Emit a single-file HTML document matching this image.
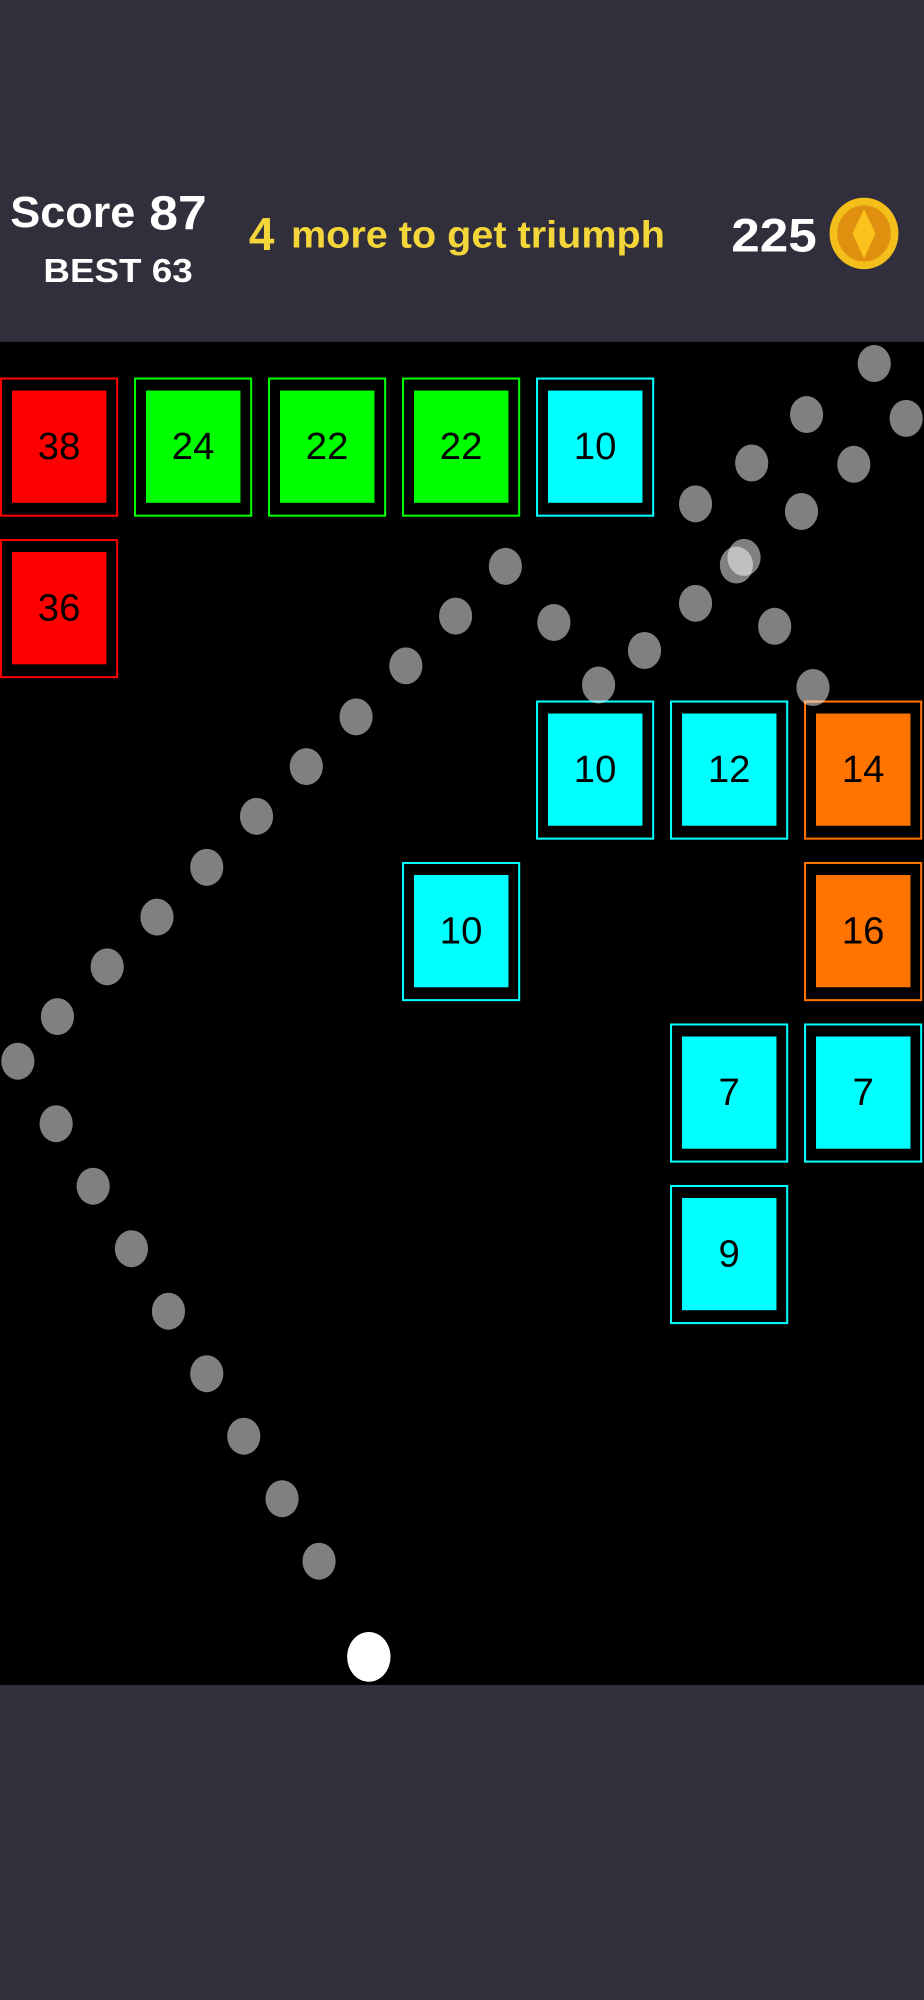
<!DOCTYPE html>
<html><head><meta charset="utf-8"><style>
html,body{margin:0;padding:0;background:#312f3b;}
svg{display:block;}
text{font-family:"Liberation Sans",Arial,sans-serif;}
</style></head><body>
<svg width="924" height="2000" viewBox="0 0 724 1568" preserveAspectRatio="none" xmlns="http://www.w3.org/2000/svg">
<rect x="0" y="0" width="724" height="1568" fill="#312f3b"/>
<rect x="0" y="268" width="724" height="1053" fill="#000"/>
<!-- header -->
<text x="8" y="178" font-size="34" font-weight="bold" fill="#fff" textLength="98" lengthAdjust="spacingAndGlyphs">Score</text>
<text x="117" y="180" font-size="38" font-weight="bold" fill="#fff" textLength="45" lengthAdjust="spacingAndGlyphs">87</text>
<text x="34" y="221" font-size="26" font-weight="bold" fill="#fff" textLength="117" lengthAdjust="spacingAndGlyphs">BEST  63</text>
<text x="195" y="196" font-size="36" font-weight="bold" fill="#f4d53a">4</text>
<text x="228" y="194" font-size="30" font-weight="bold" fill="#f4d53a" textLength="293" lengthAdjust="spacingAndGlyphs">more to get triumph</text>
<text x="573" y="197" font-size="37" font-weight="bold" fill="#fff" textLength="67" lengthAdjust="spacingAndGlyphs">225</text>
<ellipse cx="677" cy="183" rx="27" ry="28" fill="#f4bf1a"/>
<ellipse cx="677" cy="183" rx="21" ry="22" fill="#e0900e"/>
<polygon points="677,164 686,183 677,203 668,183" fill="#fbc21c"/>
<g id="blocks"></g>
<g fill="rgba(255,255,255,0.5)" id="dots"></g>
<ellipse cx="289" cy="1299" rx="17" ry="19.5" fill="#fff"/>
</svg>
<script>
var ns="http://www.w3.org/2000/svg";
var B=[[0,0,'#ff0000',38],[0,1,'#00ff00',24],[0,2,'#00ff00',22],[0,3,'#00ff00',22],[0,4,'#00ffff',10],
[1,0,'#ff0000',36],[2,4,'#00ffff',10],[2,5,'#00ffff',12],[2,6,'#ff7300',14],[3,3,'#00ffff',10],[3,6,'#ff7300',16],
[4,5,'#00ffff',7],[4,6,'#00ffff',7],[5,5,'#00ffff',9]];
var g=document.getElementById('blocks'),h='';
B.forEach(function(b){var x=b[1]*105,y=296+b[0]*126.6;
h+='<rect x="'+(x+0.8)+'" y="'+(y+0.8)+'" width="91" height="107.5" fill="none" stroke="'+b[2]+'" stroke-width="1.6"/>';
h+='<rect x="'+(x+9.4)+'" y="'+(y+10.2)+'" width="74" height="88" fill="'+b[2]+'"/>';
h+='<text x="'+(x+46.3)+'" y="'+(y+64)+'" font-size="30" text-anchor="middle" fill="#000">'+b[3]+'</text>';});
g.innerHTML=h;
var D=[[250,1224],[221,1175],[191,1126],[162,1077],[132,1028],[103,979],[73,930],[44,881],[14,832],[45,797],[84,758],[123,719],[162,680],[201,640],[240,601],[279,562],[318,522],[357,483],[396,444],
[434,488],[469,537],[505,510],[545,473],[583,437],[577,443],[607,491],[637,539],[628,401],[669,364],[710,328],[685,285],[632,325],[589,363],[545,395]];
var d='';D.forEach(function(p){d+='<ellipse cx="'+p[0]+'" cy="'+p[1]+'" rx="13" ry="14.5"/>';});
document.getElementById('dots').innerHTML=d;
</script>
</body></html>
